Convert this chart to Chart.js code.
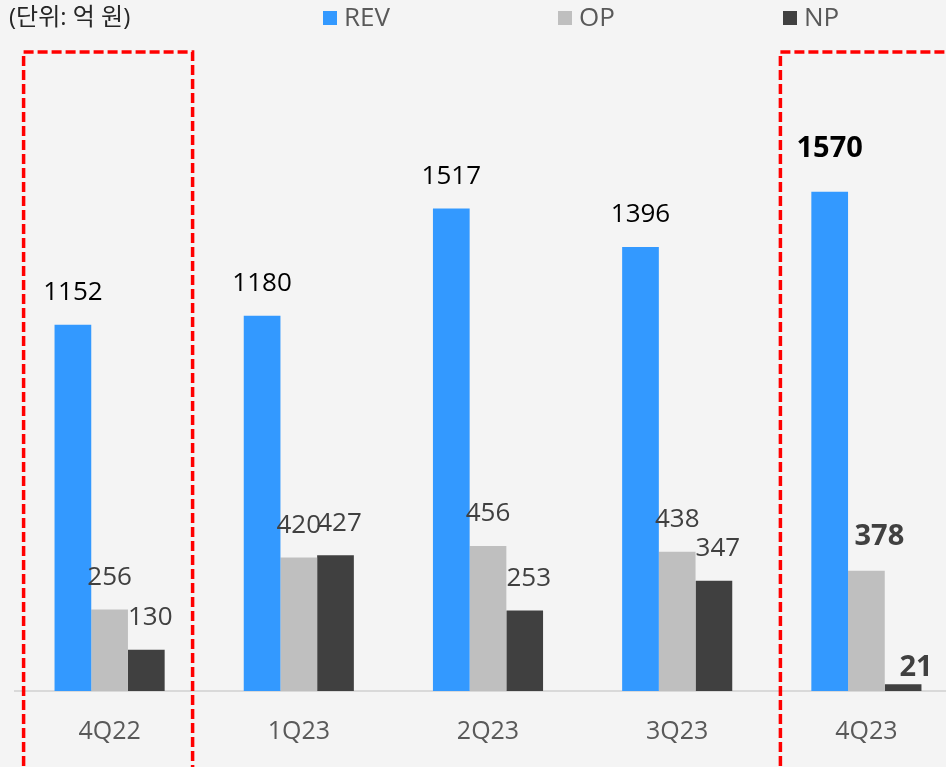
<!DOCTYPE html>
<html>
<head>
<meta charset="utf-8">
<script src="https://cdn.jsdelivr.net/npm/chart.js@4.4.1/dist/chart.umd.min.js"></script>
<style>
  html, body { margin: 0; padding: 0; background: #f4f4f4; }
  #wrap { width: 946px; height: 767px; overflow: hidden; position: relative; }
  canvas { display: block; }
</style>
</head>
<body>
<div id="wrap"><canvas id="chart" width="961" height="767"></canvas></div>
<script>
// ===== Data =====
const quarters = ['4Q22', '1Q23', '2Q23', '3Q23', '4Q23'];
const revValues = [1152, 1180, 1517, 1396, 1570];
const opValues = [256, 420, 456, 438, 378];
const npValues = [130, 427, 253, 347, 21];
const seriesNames = ['REV', 'OP', 'NP'];
const seriesColors = ['#3399ff', '#bfbfbf', '#404040'];
const labelColors = ['#000000', '#404040', '#404040'];
const unitText = '(단위: 억 원)';
const highlighted = [0, 4]; // boxed quarters
const boldIndex = 4;        // latest quarter in bold

const FONT = '"Open Sans", "Noto Sans CJK KR", sans-serif';

// value labels above bars
const valueLabels = {
    id: 'valueLabels',
    afterDatasetsDraw(chart) {
        const ctx = chart.ctx;
        ctx.save();
        ctx.textAlign = 'center';
        ctx.textBaseline = 'middle';
        chart.data.datasets.forEach((ds, di) => {
            const meta = chart.getDatasetMeta(di);
            meta.data.forEach((bar, i) => {
                const bold = i === boldIndex;
                ctx.font = (bold ? 'bold 29px ' : '26px ') + FONT;
                ctx.fillStyle = labelColors[di];
                let dx = 0, dy = 32;
                if (bold) {
                    if (di === 0) dy = 43;
                    else { dx = 13; dy = di === 2 ? 17 : 34; }
                } else if (di === 2) dx = 4;
                ctx.fillText(ds.data[i], bar.x + dx, bar.y - dy);
            });
        });
        ctx.restore();
    }
};

// legend + unit text + dashed boxes
const decorations = {
    id: 'decorations',
    afterDraw(chart) {
        const ctx = chart.ctx;
        const xs = chart.scales.x;
        ctx.save();
        ctx.textBaseline = 'middle';
        ctx.font = '24px ' + FONT;
        ctx.fillStyle = '#262626';
        ctx.textAlign = 'left';
        ctx.fillText(unitText, 9, 18);

        // legend
        const legendX = [323, 558, 783];
        ctx.font = '26px ' + FONT;
        seriesNames.forEach((name, i) => {
            ctx.fillStyle = seriesColors[i];
            ctx.fillRect(legendX[i], 11, 14, 14);
            ctx.fillStyle = '#595959';
            ctx.fillText(name, legendX[i] + 21, 19);
        });

        // red dashed boxes
        ctx.strokeStyle = '#ff0000';
        ctx.lineWidth = 3.5;
        ctx.setLineDash([10, 4]);
        highlighted.forEach(i => {
            const cx = xs.getPixelForValue(i);
            const left = cx - 86, right = cx + 83;
            ctx.beginPath();
            ctx.moveTo(left, 780);
            ctx.lineTo(left, 52);
            ctx.lineTo(right, 52);
            ctx.lineTo(right, 780);
            ctx.stroke();
        });
        ctx.restore();
    }
};

const ctx = document.getElementById('chart').getContext('2d');
new Chart(ctx, {
    type: 'bar',
    data: {
        labels: quarters,
        datasets: [
            { label: seriesNames[0], data: revValues, backgroundColor: seriesColors[0] },
            { label: seriesNames[1], data: opValues, backgroundColor: seriesColors[1] },
            { label: seriesNames[2], data: npValues, backgroundColor: seriesColors[2] }
        ]
    },
    options: {
        responsive: false,
        animation: false,
        layout: { padding: { left: 15, right: 0, top: 55, bottom: 22 } },
        datasets: {
            bar: { barPercentage: 1, categoryPercentage: 0.582 }
        },
        plugins: {
            legend: { display: false },
            tooltip: { enabled: false }
        },
        scales: {
            x: {
                grid: { display: false, drawTicks: false },
                border: { color: '#d9d9d9', width: 2 },
                ticks: {
                    color: '#595959',
                    font: { family: FONT, size: 25 },
                    padding: 26
                },
                afterFit(scale) { scale.height = 54; }
            },
            y: {
                display: false,
                min: 0,
                max: 2000
            }
        }
    },
    plugins: [valueLabels, decorations]
});
</script>
</body>
</html>
